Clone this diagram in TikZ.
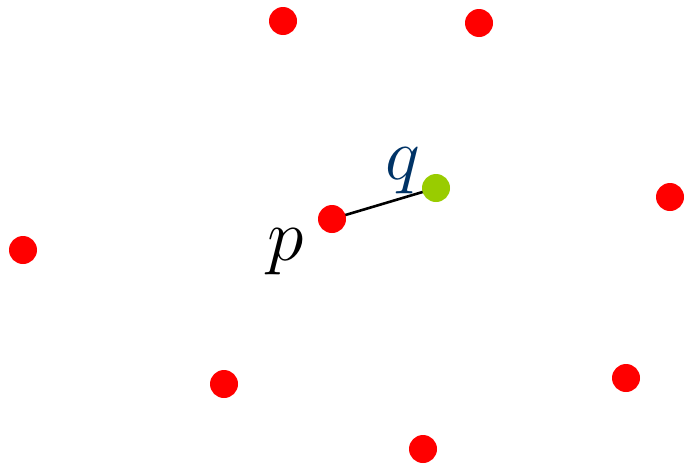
\documentclass[tikz,border=0pt]{standalone}
\definecolor{dotred}{RGB}{255,0,0}
\definecolor{dotgreen}{RGB}{153,204,0}
\definecolor{qblue}{RGB}{0,51,102}
\tikzset{
  pt/.style={circle,fill=dotred,inner sep=0pt,minimum size=28pt},
  gpt/.style={circle,fill=dotgreen,inner sep=0pt,minimum size=28pt},
  lab/.style={inner sep=0pt,font=\Huge,scale=2.97}
}
\begin{document}
\begin{tikzpicture}[x=1pt,y=-1pt]
\useasboundingbox (0,0) rectangle (687,466);
\coordinate (pc) at (332,219);
\coordinate (qc) at (436,188);
\draw[line width=2.6pt] (pc) -- (qc);
\node[pt] (p) at (pc) {};
\node[gpt] (q) at (qc) {};
\node[pt] (a) at (283,21) {};
\node[pt] (b) at (479,23) {};
\node[pt] (c) at (670,197) {};
\node[pt] (d) at (23,250) {};
\node[pt] (e) at (224,384) {};
\node[pt] (f) at (626,378) {};
\node[pt] (g) at (423,449) {};
\node[lab] (pl) at (285.5,252) {$p$};
\node[lab,text=qblue] (ql) at (403,170.5) {$q$};
\end{tikzpicture}
\end{document}
